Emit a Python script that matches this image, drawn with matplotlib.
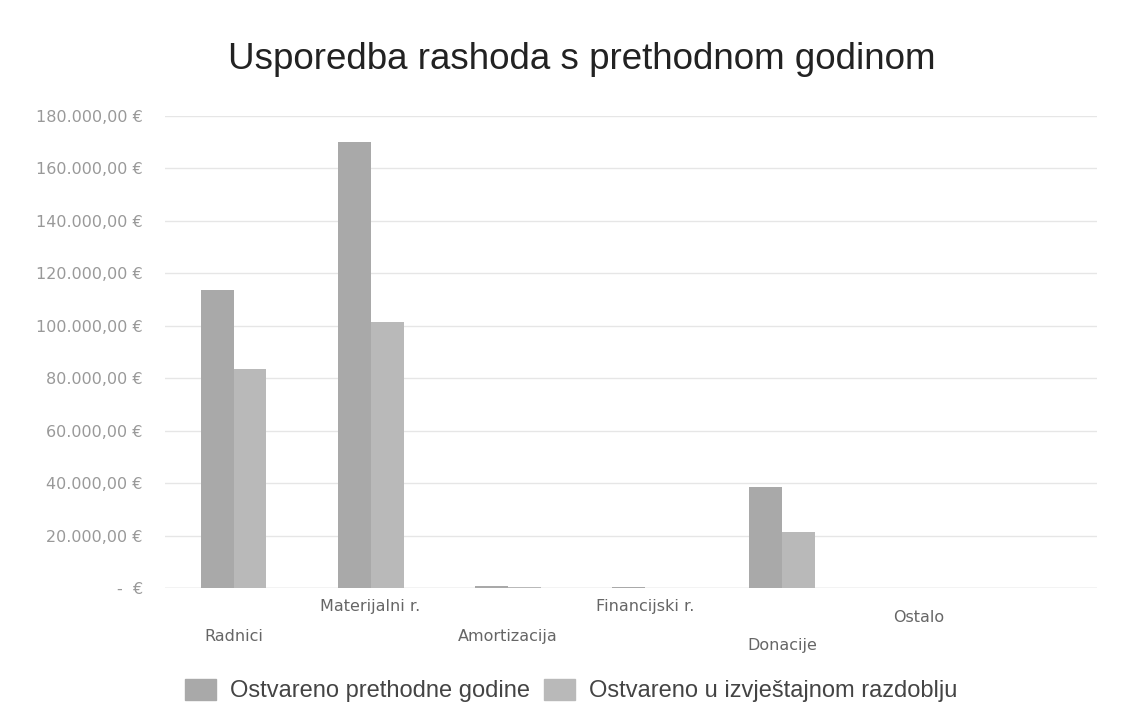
import matplotlib.pyplot as plt
import numpy as np
from matplotlib.patches import Patch

categories = ['Radnici', 'Materijalni r.', 'Amortizacija', 'Financijski r.', 'Donacije', 'Ostalo']
prethodne = [113600, 170000, 1000, 500, 38500, 0]
tekuce = [83500, 101400, 600, 0, 21400, 0]
y_ticks = [0, 20000, 40000, 60000, 80000, 100000, 120000, 140000, 160000, 180000]

# staggered category labels (pixels below the axis), as in the scanned original
label_drop = [48, 18, 48, 18, 57, 29]


def euro(v):
    if v == 0:
        return '-  €'
    s = f'{v:,.2f}'.replace(',', ' ').replace('.', ',').replace(' ', '.')
    return s + ' €'


plt.rcParams['font.family'] = ['DejaVu Sans']
fig = plt.figure(figsize=(11.34, 7.27), dpi=100)
ax = fig.add_axes([0.1455, 0.191, 0.822, 0.6494])

x = np.arange(len(categories))
w = 0.24
ax.bar(x - w / 2, prethodne, w, color='#a9a9a9', zorder=2)
ax.bar(x + w / 2, tekuce, w, color='#b9b9b9', zorder=2)

ax.set_xlim(-0.5, 6.3)
ax.set_ylim(0, 180000)
ax.set_yticks(y_ticks)
ax.set_yticklabels([euro(v) for v in y_ticks], color='#999999', fontsize=11.5)
ax.grid(axis='y', color='#e6e6e6', linewidth=1, zorder=0)
ax.tick_params(length=0, pad=16)
ax.set_xticks([])
for s in ax.spines.values():
    s.set_visible(False)
ax.axhline(0, color='#d8d8d8', linewidth=1, zorder=1)

for i, (c, d) in enumerate(zip(categories, label_drop)):
    ax.annotate(c, (i, 0), xytext=(0, -d), textcoords='offset pixels',
                ha='center', va='center', fontsize=11.5, color='#666666')

fig.text(0.513, 0.918, 'Usporedba rashoda s prethodnom godinom', ha='center', va='center',
         fontsize=26.5, color='#222222', family=['Liberation Sans', 'DejaVu Sans'])

handles = [Patch(color='#a9a9a9'), Patch(color='#b9b9b9')]
fig.legend(handles, ['Ostvareno prethodne godine', 'Ostvareno u izvještajnom razdoblju'],
           loc='center', bbox_to_anchor=(0.504, 0.05), ncol=2, frameon=False,
           handlelength=1.3, handleheight=1.0, columnspacing=0.6,
           handletextpad=0.6, labelcolor='#444444',
           prop={'family': ['Liberation Sans', 'DejaVu Sans'], 'size': 17})

fig.savefig('out.png', dpi=100)
